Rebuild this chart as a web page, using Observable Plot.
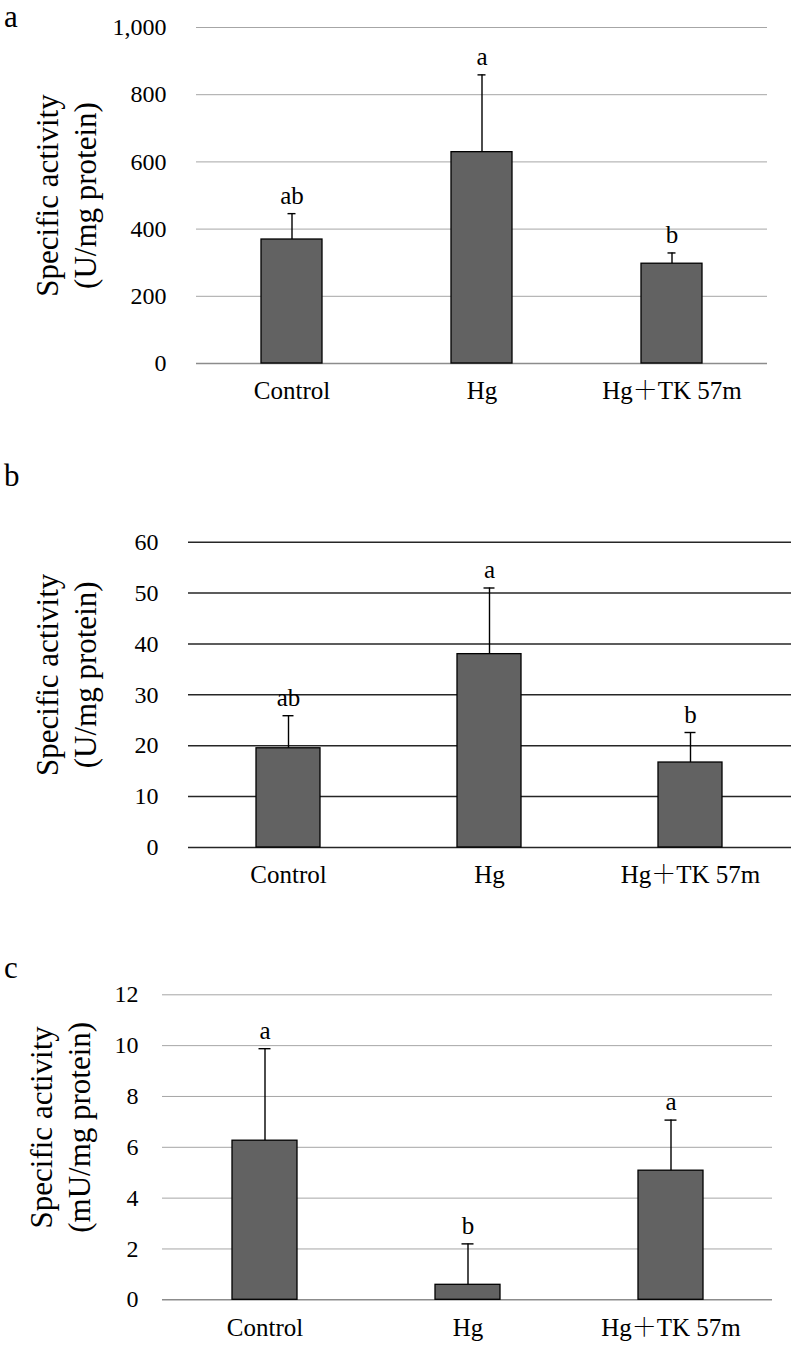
<!DOCTYPE html>
<html>
<head>
<meta charset="utf-8">
<script src="https://cdn.jsdelivr.net/npm/d3@7"></script>
<script src="https://cdn.jsdelivr.net/npm/@observablehq/plot@0.6"></script>
<style>
  html, body { margin: 0; padding: 0; background: #fff; }
  #root { position: relative; width: 793px; height: 1350px; font-family: 'Liberation Serif', 'Noto Serif CJK SC', serif; }
  .panel { position: absolute; left: 0; }
  .panel svg text { font-family: 'Liberation Serif', 'Noto Serif CJK SC', serif; }
  .plabel { position: absolute; left: 4px; font-size: 31px; line-height: 31px; font-family: 'Liberation Serif', serif; color: #000; }
</style>
</head>
<body>
<div id="root"></div>
<script>
// ---- data ----
const groups = ["Control", "Hg", "Hg＋TK 57m"];

const meanA = [369, 629, 297];
const sdA = [77, 230, 32];
const lettersA = ["ab", "a", "b"];
const ticksA = [0, 200, 400, 600, 800, 1000];
const yLabelA = "Specific activity\n(U/mg protein)";

const meanB = [19.5, 38.0, 16.7];
const sdB = [6.4, 13.0, 5.9];
const lettersB = ["ab", "a", "b"];
const ticksB = [0, 10, 20, 30, 40, 50, 60];
const yLabelB = "Specific activity\n(U/mg protein)";

const meanC = [6.26, 0.59, 5.08];
const sdC = [3.62, 1.61, 1.99];
const lettersC = ["a", "b", "a"];
const ticksC = [0, 2, 4, 6, 8, 10, 12];
const yLabelC = "Specific activity\n(mU/mg protein)";

const panelNames = ["a", "b", "c"];

// ---- drawing ----
const root = document.getElementById("root");
const FONT = "'Liberation Serif', 'Noto Serif CJK SC', serif";

function panel(cfg) {
  const data = groups.map((g, i) => ({group: g, mean: cfg.mean[i], sd: cfg.sd[i], letter: cfg.letters[i]}));
  const ticks = cfg.ticks;
  return Plot.plot({
    width: 793,
    height: cfg.height,
    marginTop: cfg.mt,
    marginBottom: cfg.mb,
    marginLeft: cfg.ml,
    marginRight: cfg.mr,
    style: `font-family: ${FONT}; font-size: 24px; background: white; color: #000;`,
    x: {domain: groups, paddingInner: 0.68, paddingOuter: 0.34, label: null},
    y: {domain: [0, ticks[ticks.length - 1]], label: null},
    marks: [
      Plot.ruleY(ticks.filter(t => t > 0), {stroke: cfg.gridColor, strokeWidth: cfg.gridWidth, strokeOpacity: 1}),
      Plot.ruleY([0], {stroke: cfg.baseColor, strokeWidth: cfg.baseWidth, strokeOpacity: 1}),
      Plot.ruleX(data, {x: "group", y1: "mean", y2: d => d.mean + d.sd, stroke: "#000", strokeWidth: 1.4}),
      Plot.tickY(data, {x: "group", y: d => d.mean + d.sd, stroke: "#000", strokeWidth: 1.4, insetLeft: 26.5, insetRight: 26.5}),
      Plot.barY(data, {x: "group", y: "mean", fill: "#626262", stroke: "#000", strokeWidth: 1.3}),
      Plot.text(data, {x: "group", y: d => d.mean + d.sd, text: "letter", dy: -18, fontSize: 25, fill: "#000", fontFamily: FONT}),
      Plot.axisY({ticks: ticks, tickSize: 0, tickPadding: cfg.tp, tickFormat: d3.format(","), label: null, fontSize: 24, fontFamily: FONT}),
      Plot.axisX({tickSize: 0, tickPadding: 18, label: null, fontSize: 25, fontFamily: FONT}),
      Plot.text([cfg.ylabel], {frameAnchor: "left", textAnchor: "middle", lineAnchor: "middle", text: d => d, rotate: -90, dx: cfg.ldx, dy: cfg.ldy, lineHeight: 1.23, fontSize: 31, fill: "#000", fontFamily: FONT})
    ]
  });
}

const configs = [
  {top: 0, height: 420, mt: 27, mb: 57, ml: 196, mr: 26, tp: 30, mean: meanA, sd: sdA, letters: lettersA, ticks: ticksA, ylabel: yLabelA,
   gridColor: "#a6a6a6", gridWidth: 1, baseColor: "#8c8c8c", baseWidth: 1.5, ldx: -132, ldy: 0},
  {top: 420, height: 480, mt: 121.7, mb: 53, ml: 188, mr: 2, tp: 30, mean: meanB, sd: sdB, letters: lettersB, ticks: ticksB, ylabel: yLabelB,
   gridColor: "#262626", gridWidth: 1.5, baseColor: "#262626", baseWidth: 1.5, ldx: -124, ldy: -20},
  {top: 900, height: 450, mt: 94.3, mb: 50.7, ml: 162, mr: 21, tp: 24, mean: meanC, sd: sdC, letters: lettersC, ticks: ticksC, ylabel: yLabelC,
   gridColor: "#a6a6a6", gridWidth: 1, baseColor: "#8c8c8c", baseWidth: 1.5, ldx: -104, ldy: -20}
];

const labelTops = [1, 460, 952];

configs.forEach((cfg, i) => {
  const div = document.createElement("div");
  div.className = "panel";
  div.style.top = cfg.top + "px";
  div.appendChild(panel(cfg));
  root.appendChild(div);
  const lab = document.createElement("div");
  lab.className = "plabel";
  lab.style.top = labelTops[i] + "px";
  lab.textContent = panelNames[i];
  root.appendChild(lab);
});
</script>
</body>
</html>
